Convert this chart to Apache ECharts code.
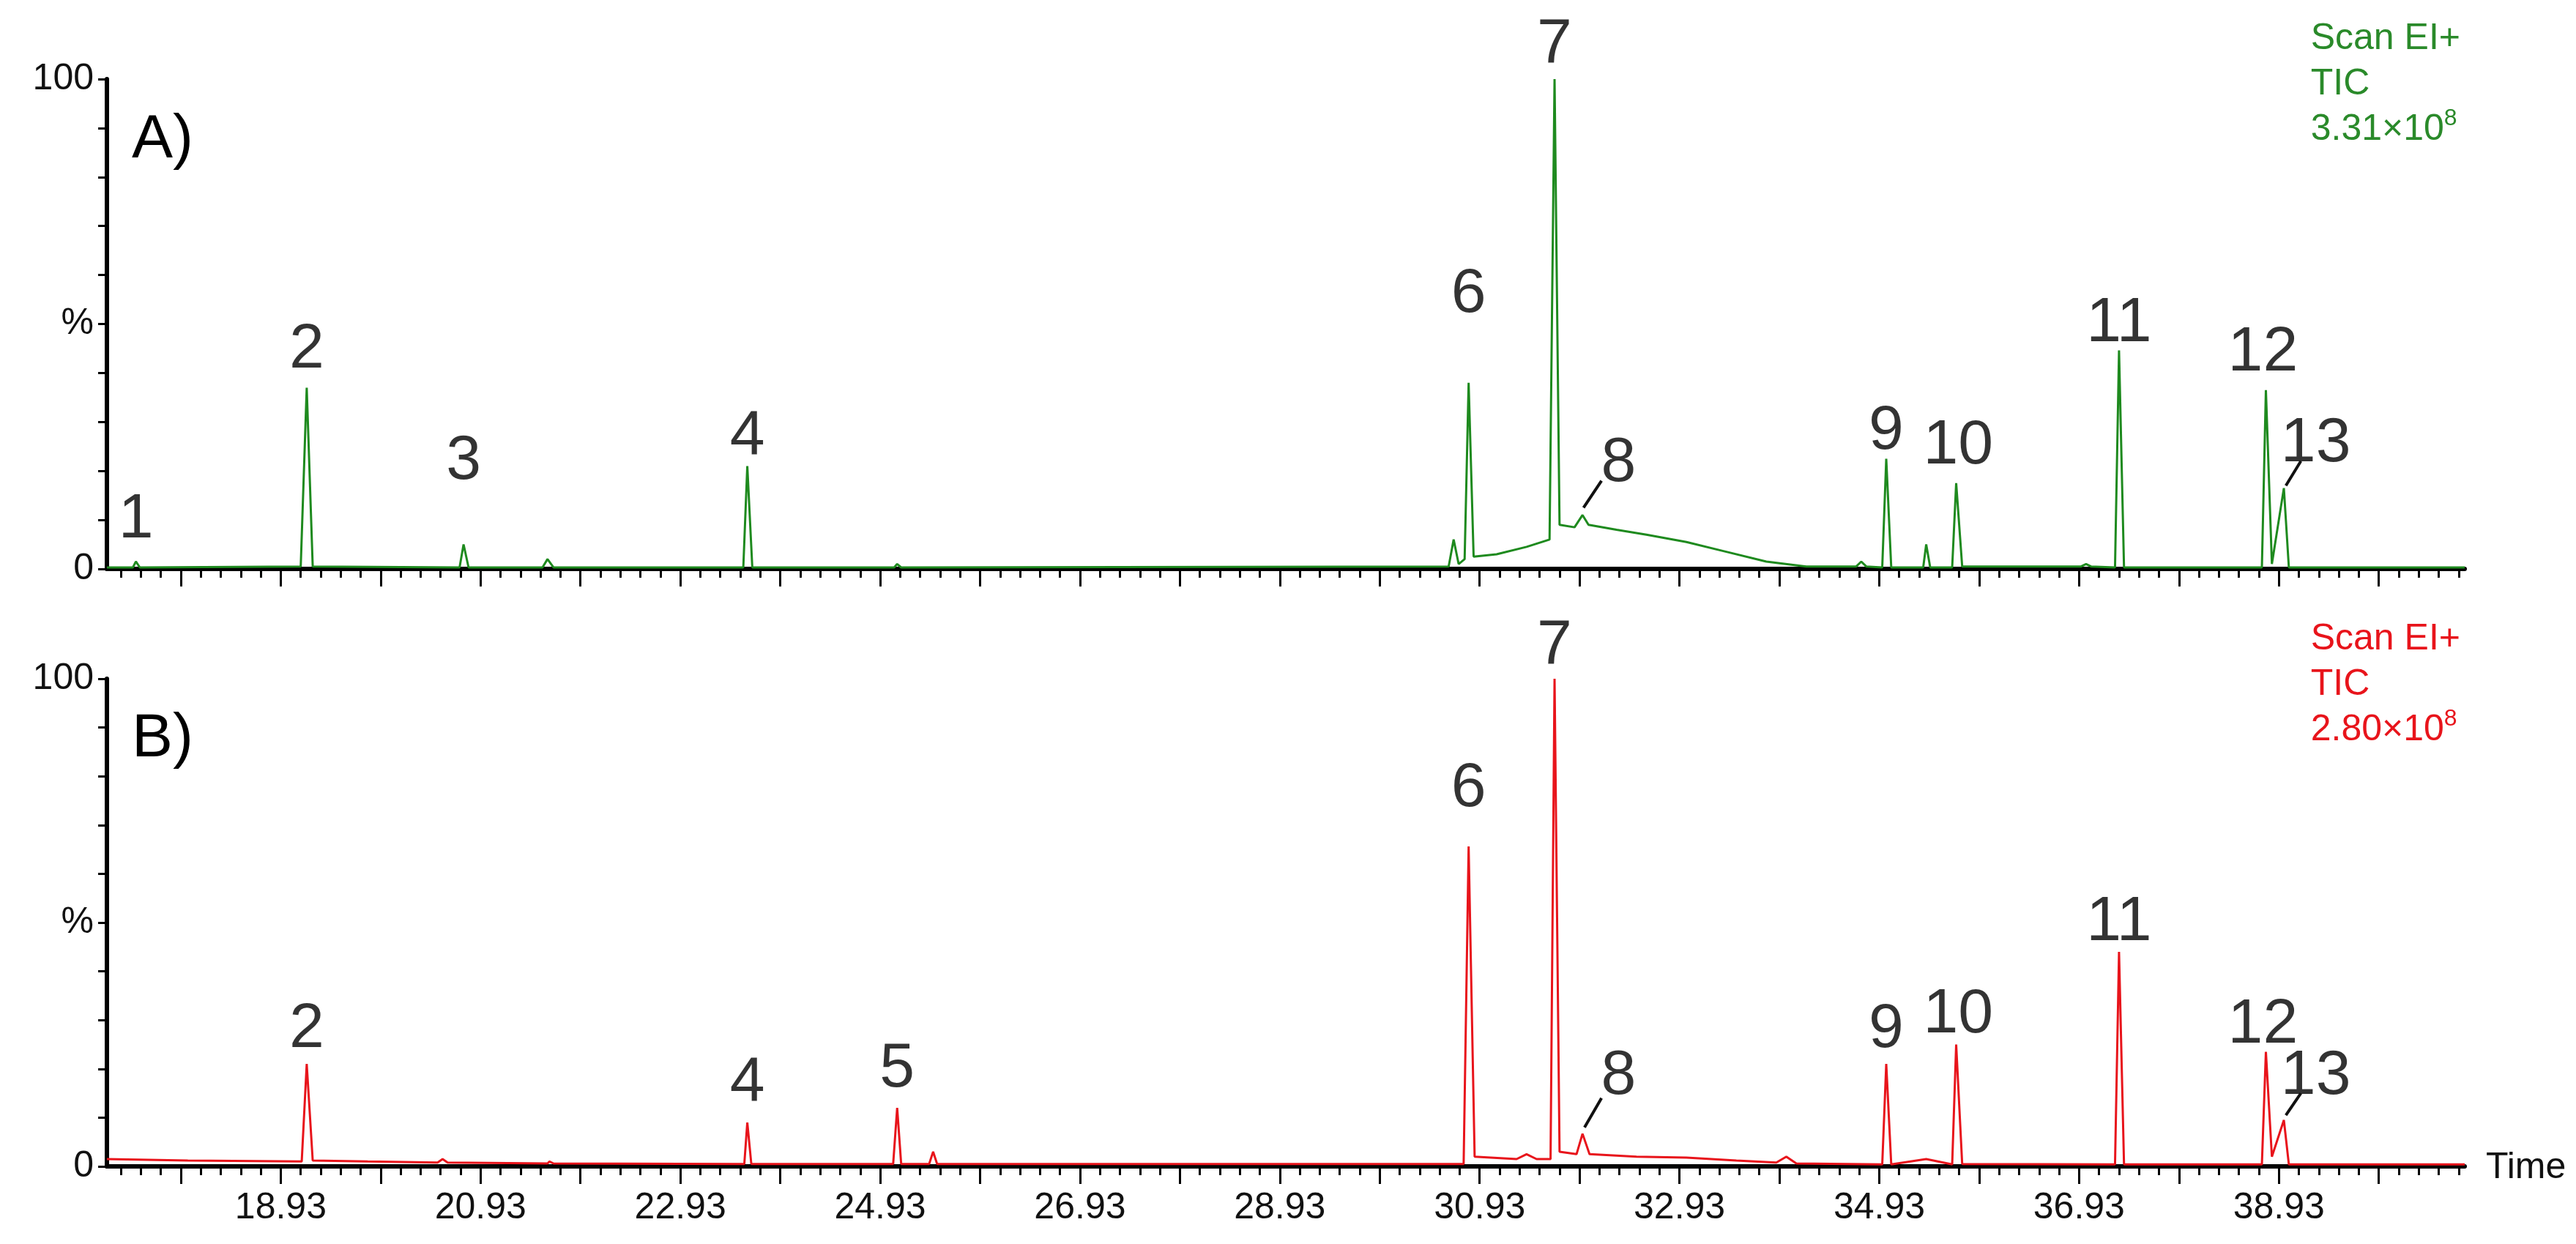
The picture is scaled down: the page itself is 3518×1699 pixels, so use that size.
<!DOCTYPE html>
<html>
<head>
<meta charset="utf-8">
<script src="https://cdn.jsdelivr.net/npm/echarts@6/dist/echarts.min.js"></script>
<style>
  html, body { margin: 0; padding: 0; background: #fff; }
  #chart { width: 3518px; height: 1699px; }
</style>
</head>
<body>
<div id="chart"></div>
<script>
// chromatogram A (green), [time, %]
const traceA = [
    [17.19, 0.3], [17.45, 0.3], [17.48, 1.5], [17.52, 0.3],
    [19.13, 0.5], [19.19, 37], [19.25, 0.5],
    [20.72, 0.3], [20.76, 5], [20.81, 0.3],
    [21.55, 0.3], [21.6, 2], [21.66, 0.3],
    [23.56, 0.3], [23.6, 21], [23.65, 0.3],
    [25.07, 0.3], [25.1, 1], [25.14, 0.3],
    [30.62, 0.5], [30.67, 6], [30.72, 1], [30.78, 2], [30.82, 38], [30.87, 2.5], [31.1, 3],
    [31.4, 4.5], [31.63, 6], [31.68, 100], [31.73, 9], [31.88, 8.5], [31.96, 11],
    [32.02, 9], [32.3, 8], [32.6, 7], [33.0, 5.5], [33.4, 3.5], [33.8, 1.5],
    [34.2, 0.5], [34.7, 0.5], [34.75, 1.5], [34.8, 0.5],
    [34.96, 0.3], [35.0, 22.5], [35.05, 0.3],
    [35.37, 0.3], [35.4, 5], [35.44, 0.3],
    [35.66, 0.3], [35.7, 17.5], [35.76, 0.5],
    [36.95, 0.5], [37.0, 1], [37.05, 0.5],
    [37.29, 0.3], [37.33, 44.6], [37.38, 0.3],
    [38.76, 0.3], [38.8, 36.5], [38.86, 1], [38.98, 16.5], [39.03, 0.3],
    [40.79, 0.3]
];

// chromatogram B (red)
const traceB = [
    [17.19, 1.5], [18.0, 1.2], [19.14, 1], [19.19, 21], [19.25, 1.2], [19.8, 1],
    [20.5, 0.8], [20.55, 1.5], [20.6, 0.8], [21.6, 0.6], [21.62, 1], [21.66, 0.6],
    [23.57, 0.5], [23.6, 9], [23.64, 0.5], [24.8, 0.5],
    [25.06, 0.5], [25.1, 12], [25.14, 0.5], [25.42, 0.5], [25.46, 3], [25.5, 0.5],
    [30.77, 0.5], [30.82, 65.6], [30.88, 2], [31.3, 1.5], [31.4, 2.5], [31.5, 1.5],
    [31.64, 1.5], [31.68, 100], [31.73, 3], [31.9, 2.5], [31.96, 6.7], [32.03, 2.5],
    [32.5, 2], [33.0, 1.8], [33.5, 1.2], [33.9, 0.8], [34.0, 2], [34.1, 0.6],
    [34.96, 0.4], [35.0, 21], [35.05, 0.4], [35.4, 1.5],
    [35.66, 0.4], [35.7, 25], [35.76, 0.5],
    [37.29, 0.4], [37.33, 44], [37.38, 0.4],
    [38.76, 0.4], [38.8, 23.5], [38.86, 2], [38.98, 9.5], [39.03, 0.4],
    [40.79, 0.4]
];

// peak number labels [time, %, text]
const peaksA = [
    [17.48, 10, '1'], [19.19, 44.6, '2'], [20.76, 22, '3'], [23.6, 27, '4'],
    [30.82, 56, '6'], [31.68, 107, '7'], [32.32, 21.5, '8'], [35.0, 28, '9'],
    [35.72, 25, '10'], [37.33, 50, '11'], [38.77, 44, '12'], [39.3, 25.5, '13']
];
const peaksB = [
    [19.19, 28, '2'], [23.6, 17, '4'], [25.1, 20, '5'], [30.82, 77.4, '6'],
    [31.68, 106.7, '7'], [32.32, 18.5, '8'], [35.0, 28, '9'], [35.72, 31, '10'],
    [37.33, 50, '11'], [38.77, 29, '12'], [39.3, 18.5, '13']
];
const leadersA = [[[31.97, 12.5], [32.15, 18]], [[39.0, 17], [39.15, 22]]];
const leadersB = [[[31.98, 8], [32.15, 14]], [[39.0, 10.5], [39.15, 15]]];

const xLabels = [18.93, 20.93, 22.93, 24.93, 26.93, 28.93, 30.93, 32.93, 34.93, 36.93, 38.93];
const xMin = 17.19, xMax = 40.79;

const majorTicks = [];
for (let v = 17.93; v < xMax; v += 1) majorTicks.push(+v.toFixed(2));
const minorTicks = [];
for (let v = 17.33; v < xMax; v += 0.2) minorTicks.push(+v.toFixed(2));

const font = 'Liberation Sans, Arial, sans-serif';
const grids = [
    { left: 146, right: 152, top: 108, height: 669 },
    { left: 146, right: 152, top: 927, height: 666 }
];

function xAxes(gi, showLabels) {
    return [
        {
            type: 'value', gridIndex: gi, position: 'bottom', min: xMin, max: xMax,
            axisLine: { lineStyle: { color: '#000', width: 6 } },
            splitLine: { show: false },
            axisTick: { customValues: majorTicks, length: 24, lineStyle: { color: '#000', width: 3 } },
            axisLabel: {
                show: showLabels, customValues: xLabels, margin: 32,
                fontSize: 50, color: '#111', fontFamily: font,
                formatter: v => v.toFixed(2)
            }
        },
        {
            type: 'value', gridIndex: gi, position: 'bottom', min: xMin, max: xMax,
            axisLine: { show: false, onZero: false }, splitLine: { show: false },
            axisTick: { customValues: minorTicks, length: 12, lineStyle: { color: '#000', width: 3 } },
            axisLabel: { show: false }
        }
    ];
}

function yAxis(gi) {
    return {
        type: 'value', gridIndex: gi, min: 0, max: 100, interval: 10,
        axisLine: { show: true, lineStyle: { color: '#000', width: 6 } },
        splitLine: { show: false },
        axisTick: { show: true, length: 12, lineStyle: { color: '#000', width: 3 } },
        axisLabel: {
            fontSize: 50, color: '#111', fontFamily: font, margin: 18,
            formatter: v => v === 100 ? '100' : v === 50 ? '%' : v === 0 ? '0' : ''
        }
    };
}

function traceSeries(data, color, xi, yi) {
    return {
        type: 'line', data: data, xAxisIndex: xi, yAxisIndex: yi,
        showSymbol: false, symbol: 'none', z: 3,
        lineStyle: { color: color, width: 3 }
    };
}

function labelSeries(peaks, xi, yi) {
    return {
        type: 'scatter', xAxisIndex: xi, yAxisIndex: yi, clip: false,
        symbolSize: 0, silent: true,
        data: peaks.map(p => ({ value: [p[0], p[1]], name: p[2] })),
        label: {
            show: true, position: 'inside', formatter: '{b}',
            fontSize: 86, color: '#000', fontFamily: font
        }
    };
}

function leaderSeries(leaders, xi, yi) {
    return leaders.map(seg => ({
        type: 'line', xAxisIndex: xi, yAxisIndex: yi, data: seg,
        symbol: 'none', silent: true, lineStyle: { color: '#111', width: 4 }
    }));
}

const chart = echarts.init(document.getElementById('chart'));
chart.setOption({
    animation: false,
    backgroundColor: '#fff',
    grid: grids,
    xAxis: [...xAxes(0, false), ...xAxes(1, true)],
    yAxis: [yAxis(0), yAxis(1)],
    series: [
        traceSeries(traceA, '#1e8a1e', 0, 0),
        traceSeries(traceB, '#e8141b', 2, 1),
        labelSeries(peaksA, 0, 0),
        labelSeries(peaksB, 2, 1),
        ...leaderSeries(leadersA, 0, 0),
        ...leaderSeries(leadersB, 2, 1)
    ],
    graphic: [
        { type: 'text', left: 180, top: 150, style: { text: 'A)', fontSize: 84, fill: '#000', fontFamily: font } },
        { type: 'text', left: 180, top: 968, style: { text: 'B)', fontSize: 84, fill: '#000', fontFamily: font } },
        {
            type: 'text', right: 158, top: 22,
            style: {
                text: 'Scan EI+\nTIC\n3.31×10{s|8}', align: 'right', fontSize: 50, lineHeight: 62,
                fill: '#2a8a2a', fontFamily: font,
                rich: { s: { fontSize: 32, verticalAlign: 'top', fill: '#2a8a2a', padding: [0, 0, 22, 0] } }
            }
        },
        {
            type: 'text', right: 158, top: 842,
            style: {
                text: 'Scan EI+\nTIC\n2.80×10{s|8}', align: 'right', fontSize: 50, lineHeight: 62,
                fill: '#e8141b', fontFamily: font,
                rich: { s: { fontSize: 32, verticalAlign: 'top', fill: '#e8141b', padding: [0, 0, 22, 0] } }
            }
        },
        { type: 'text', left: 3395, top: 1570, style: { text: 'Time', fontSize: 50, fill: '#111', fontFamily: font } }
    ]
});

window.addEventListener('resize', () => chart.resize());
</script>
</body>
</html>
